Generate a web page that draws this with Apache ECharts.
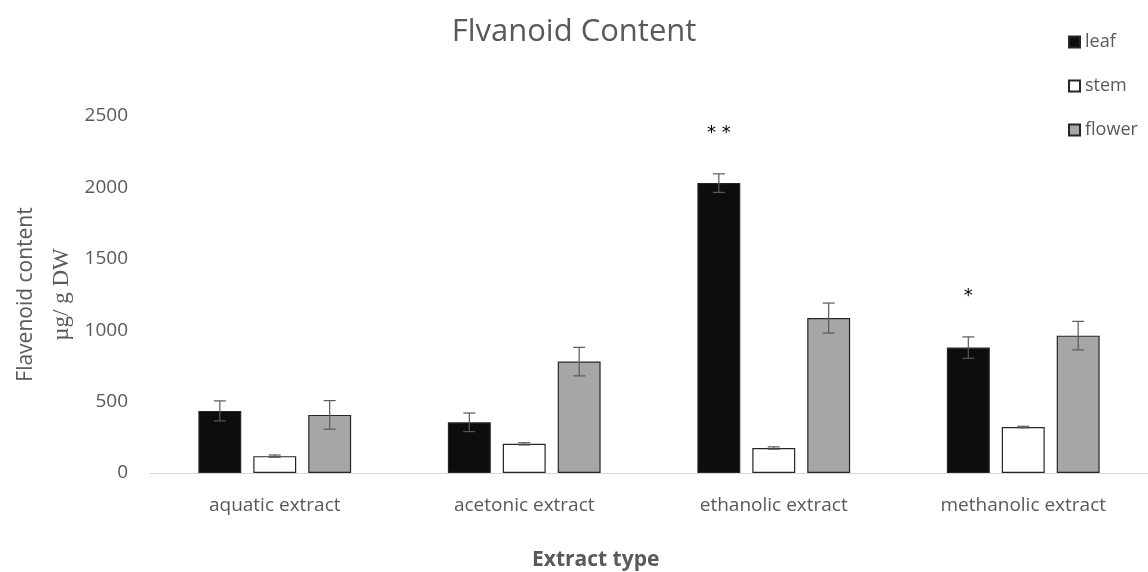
<!DOCTYPE html>
<html><head><meta charset="utf-8">
<script src="https://cdn.jsdelivr.net/npm/echarts@6/dist/echarts.min.js"></script>
<style>html,body{margin:0;padding:0;background:#fff}#c{width:1148px;height:572px}</style>
</head><body><div id="c"></div>
<script>
var categories = ['aquatic extract', 'acetonic extract', 'ethanolic extract', 'methanolic extract'];
var leaf = [435, 355, 2030, 878];
var leafErr = [70, 65, 65, 75];
var stem = [118, 204, 175, 322];
var stemErr = [8, 8, 8, 5];
var flower = [407, 780, 1085, 962];
var flowerErr = [100, 100, 105, 100];
var leafStars = ['', '', '**', '*'];
var yTicks = [0, 500, 1000, 1500, 2000, 2500];

var BW = 0.172, GAP = 0.28;
var names = ['leaf', 'stem', 'flower'];
var vals = [leaf, stem, flower];
var errs = [leafErr, stemErr, flowerErr];
var fills = ['#0d0d0d', '#ffffff', '#a6a6a6'];

function errSeries(k) {
  return {
    type: 'custom', name: names[k] + '_err', z: 5, silent: true,
    data: vals[k].map(function (v, i) { return [i, v, errs[k][i]]; }),
    renderItem: function (params, api) {
      var i = api.value(0), v = api.value(1), e = api.value(2);
      var cw = api.size([1, 0])[0];
      var off = (k - 1) * cw * BW * (1 + GAP);
      var c = api.coord([i, v]);
      var x = c[0] + off;
      var top = api.coord([i, v + e])[1];
      var bot = api.coord([i, v - e])[1];
      var st = { stroke: '#595959', lineWidth: 1.2 };
      return { type: 'group', children: [
        { type: 'line', shape: { x1: x, y1: top, x2: x, y2: bot }, style: st },
        { type: 'line', shape: { x1: x - 6, y1: top, x2: x + 6, y2: top }, style: st },
        { type: 'line', shape: { x1: x - 6, y1: bot, x2: x + 6, y2: bot }, style: st }
      ]};
    }
  };
}

var series = [];
for (var k = 0; k < 3; k++) {
  series.push({
    type: 'bar', name: names[k], data: vals[k],
    barWidth: (BW * 100) + '%', barGap: (GAP * 100) + '%',
    itemStyle: { color: fills[k], borderColor: '#262626', borderWidth: 1.2 }
  });
}
for (var k2 = 0; k2 < 3; k2++) series.push(errSeries(k2));
series.push({
  type: 'custom', name: 'stars', z: 6, silent: true,
  data: leaf.map(function (v, i) { return [i, v + leafErr[i]]; }),
  renderItem: function (params, api) {
    var i = api.value(0), t = api.value(1);
    var s = leafStars[i];
    if (!s) return null;
    var cw = api.size([1, 0])[0];
    var off = -cw * BW * (1 + GAP);
    var c = api.coord([i, t]);
    return { type: 'text', style: { x: c[0] + off, y: c[1] - 41, text: s.split('').join(' '),
      fill: '#000', font: '18px "DejaVu Sans"', align: 'center', verticalAlign: 'middle' } };
  }
});

var chart = echarts.init(document.getElementById('c'));
chart.setOption({
  animation: false,
  title: { text: 'Flvanoid Content', left: 'center', top: 12,
    textStyle: { color: '#595959', fontSize: 31, fontWeight: 'normal', fontFamily: 'Open Sans' } },
  legend: {
    data: names, orient: 'vertical', left: 1063, top: 28, itemGap: 26,
    itemWidth: 11, itemHeight: 11, icon: 'rect',
    textStyle: { color: '#595959', fontSize: 18, fontFamily: 'Open Sans' }
  },
  grid: { left: 150, right: 0, top: 116, bottom: 99, containLabel: false, outerBoundsMode: 'none' },
  graphic: [{
    type: 'text', left: 532, top: 550,
    style: { text: 'Extract type', fill: '#595959', font: 'bold 21px "Open Sans"' }
  }],
  xAxis: {
    type: 'category', data: categories,
    axisLine: { lineStyle: { color: '#d9d9d9', width: 1 } },
    axisTick: { show: false },
    axisLabel: { color: '#595959', fontSize: 19, margin: 23, fontFamily: 'Open Sans' }
  },
  yAxis: {
    type: 'value', min: yTicks[0], max: yTicks[yTicks.length - 1], interval: 500,
    splitLine: { show: false }, axisLine: { show: false }, axisTick: { show: false },
    axisLabel: { color: '#595959', fontSize: 19, margin: 22, fontFamily: 'Open Sans',
      formatter: function (v) { return String(v); } },
    name: '{a|Flavenoid content}\n{b|µg/ g DW}', nameLocation: 'middle', nameGap: 70,
    nameTextStyle: { rich: {
      a: { color: '#595959', fontSize: 21, fontFamily: 'Open Sans', lineHeight: 36 },
      b: { color: '#595959', fontSize: 23, fontFamily: 'Liberation Serif', lineHeight: 36 }
    } }
  },
  series: series
});
</script></body></html>
